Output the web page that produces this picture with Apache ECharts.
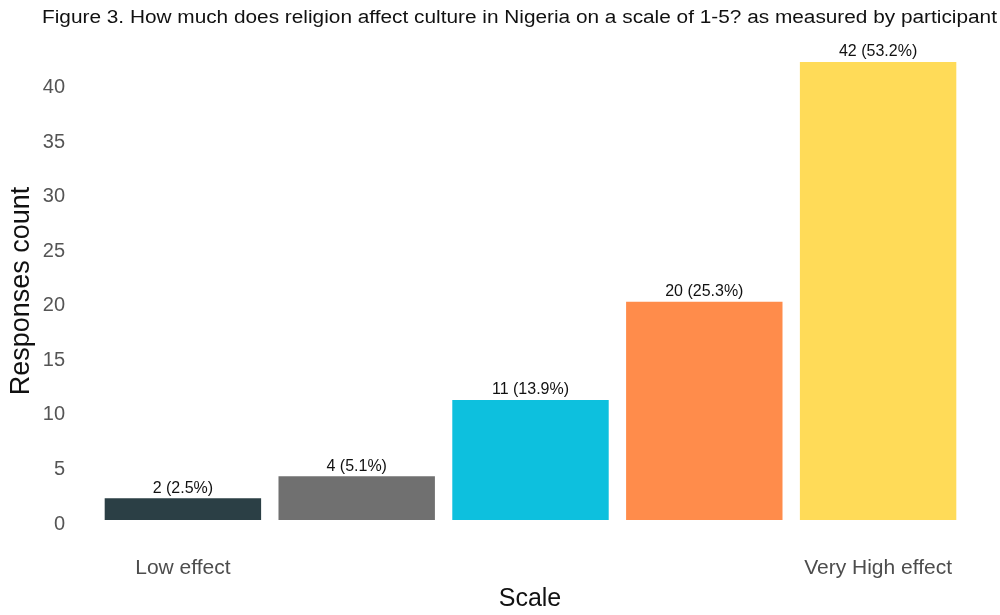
<!DOCTYPE html>
<html>
<head>
<meta charset="utf-8">
<script src="https://cdn.jsdelivr.net/npm/echarts@6/dist/echarts.min.js"></script>
<style>
  html, body { margin: 0; padding: 0; background: #fff; }
  #chart { width: 1000px; height: 615px; }
</style>
</head>
<body>
<div id="chart"></div>
<script>
// Survey responses on the 1-5 scale
const categories = ['1', '2', '3', '4', '5'];
const tickLabels = ['Low effect', '', '', '', 'Very High effect'];
const counts = [2, 4, 11, 20, 42];
const percents = ['2.5', '5.1', '13.9', '25.3', '53.2'];
const barColors = ['#2b3f45', '#707070', '#0dc0de', '#ff8c4b', '#ffdb58'];
const yTicks = [0, 5, 10, 15, 20, 25, 30, 35, 40];

const titleText = 'Figure 3. How much does religion affect culture in Nigeria on a scale of 1-5? as measured by participant';
const font = 'Liberation Sans, Arial, sans-serif';

const chart = echarts.init(document.getElementById('chart'));

chart.setOption({
  animation: false,
  backgroundColor: '#ffffff',
  graphic: [
    {
      // figure caption, drawn slightly widened
      type: 'text',
      x: 42,
      y: 18,
      scaleX: 1.156,
      originX: 0,
      style: {
        text: titleText,
        fontFamily: font,
        fontSize: 18,
        fill: '#111',
        textAlign: 'left',
        textVerticalAlign: 'middle'
      }
    },
    {
      // y axis title, centred on the full panel height
      type: 'text',
      x: 22,
      y: 291,
      rotation: Math.PI / 2,
      style: {
        text: 'Responses count',
        fontFamily: font,
        fontSize: 27,
        fill: '#111',
        textAlign: 'center',
        textVerticalAlign: 'middle'
      }
    },
    {
      type: 'text',
      x: 530,
      y: 599,
      style: {
        text: 'Scale',
        fontFamily: font,
        fontSize: 25,
        fill: '#111',
        textAlign: 'center',
        textVerticalAlign: 'middle'
      }
    }
  ],
  grid: {
    left: 96,
    right: 35,
    top: 39,
    bottom: 95,
    containLabel: false
  },
  xAxis: {
    type: 'category',
    data: categories,
    axisLine: { show: false },
    axisTick: { show: false },
    axisLabel: {
      margin: 38,
      interval: 0,
      fontFamily: font,
      fontSize: 21,
      color: '#4d4d4d',
      formatter: (v, i) => tickLabels[i]
    }
  },
  yAxis: {
    type: 'value',
    min: 0,
    max: 44.1,
    interval: 5,
    axisLine: { show: false },
    axisTick: { show: false },
    splitLine: { show: false },
    axisLabel: {
      showMaxLabel: false,
      margin: 31,
      fontFamily: font,
      fontSize: 20,
      color: '#555',
      verticalAlign: 'top',
      padding: [-6, 0, 0, 0],
      formatter: v => (yTicks.includes(v) ? String(v) : '')
    }
  },
  series: [{
    type: 'bar',
    barWidth: '90%',
    data: counts.map((c, i) => ({ value: c, itemStyle: { color: barColors[i] } })),
    label: {
      show: true,
      position: 'top',
      distance: 2,
      fontFamily: font,
      fontSize: 16,
      color: '#111',
      formatter: p => counts[p.dataIndex] + ' (' + percents[p.dataIndex] + '%)'
    }
  }]
});
</script>
</body>
</html>
